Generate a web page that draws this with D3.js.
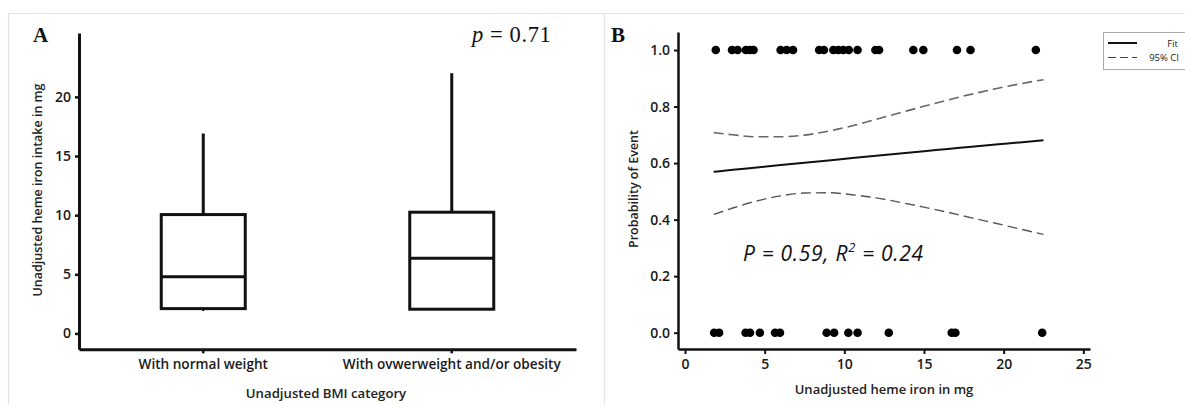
<!DOCTYPE html>
<html>
<head>
<meta charset="utf-8">
<script src="https://cdn.jsdelivr.net/npm/d3@7"></script>
<style>
  body { margin: 0; background: #fff; }
  svg { display: block; font-family: 'Open Sans', sans-serif; }
  .tick text { fill: #1a1a1a; font-weight: 600; }
</style>
</head>
<body>
<div id="chart"></div>
<script>
// panel A: box plot values (mg)
const categories = ['With normal weight', 'With ovwerweight and/or obesity'];
const whiskerLow = [1.9, 2.0];
const q1 = [2.1, 2.05];
const median = [4.8, 6.35];
const q3 = [10.05, 10.25];
const whiskerHigh = [16.9, 22.0];
const ticksA = [0, 5, 10, 15, 20];

// panel B: observed events (heme iron mg) at 1 and at 0
const eventOne = [1.93, 2.95, 3.3, 3.82, 4.07, 4.3, 6.0, 6.38, 6.78, 8.42, 8.72, 9.31, 9.62, 9.94, 10.28, 10.83, 11.95, 12.18, 14.33, 14.96, 17.07, 17.92, 22.02];
const eventZero = [1.83, 2.14, 3.8, 4.08, 4.7, 5.65, 5.96, 8.89, 9.36, 10.25, 10.83, 12.79, 16.74, 16.97, 22.42];

// fitted probability and 95% CI
const fitX = [1.8, 3, 4.5, 6, 7.5, 9, 10.5, 12, 13.5, 15, 16.5, 18, 19.5, 21, 22.5];
const fitP = [0.569, 0.576, 0.584, 0.593, 0.601, 0.609, 0.618, 0.626, 0.634, 0.642, 0.650, 0.658, 0.666, 0.673, 0.681];
const ciHigh = [0.708, 0.700, 0.693, 0.693, 0.699, 0.713, 0.732, 0.755, 0.778, 0.801, 0.823, 0.844, 0.863, 0.880, 0.895];
const ciLow = [0.418, 0.441, 0.466, 0.484, 0.494, 0.495, 0.488, 0.477, 0.461, 0.444, 0.426, 0.406, 0.387, 0.367, 0.348];
const ticksBx = [0, 5, 10, 15, 20, 25];
const ticksBy = [0, 0.2, 0.4, 0.6, 0.8, 1.0];

const W = 1185, H = 404;
const svg = d3.select('#chart').append('svg').attr('width', W).attr('height', H);
svg.append('rect').attr('width', W).attr('height', H).attr('fill', '#fff');

// faint frame around the two panels
svg.append('path')
    .attr('d', `M8.5,${H} V13.5 H${W} M604.5,13.5 V${H}`)
    .attr('fill', 'none').attr('stroke', '#e2e2e2').attr('stroke-width', 1.2);

// ---------- panel A ----------
const xA = d3.scaleBand().domain(categories).range([79, 576]).paddingInner(0.662).paddingOuter(0.331);
const yA = d3.scaleLinear().domain([-1.34, 25.4]).range([349.3, 33]);

const gAy = svg.append('g').attr('transform', 'translate(79,0)')
    .call(d3.axisLeft(yA).tickValues(ticksA).tickSize(4).tickSizeOuter(0).tickPadding(4));
const gAx = svg.append('g').attr('transform', 'translate(0,349.3)')
    .call(d3.axisBottom(xA).tickSize(4).tickSizeOuter(0).tickPadding(6));
[gAy, gAx].forEach(g => {
  g.select('.domain').attr('stroke', '#111').attr('stroke-width', 3);
  g.selectAll('.tick line').attr('stroke', '#111').attr('stroke-width', 2.5);
  g.selectAll('.tick text').attr('font-size', 14).attr('font-family', 'Open Sans');
});
gAx.selectAll('.tick text').attr('font-size', 13.6);

const boxes = svg.append('g').selectAll('g').data(categories).join('g');
boxes.append('line')
    .attr('x1', d => xA(d) + xA.bandwidth() / 2).attr('x2', d => xA(d) + xA.bandwidth() / 2)
    .attr('y1', (d, i) => yA(q3[i])).attr('y2', (d, i) => yA(whiskerHigh[i]))
    .attr('stroke', '#111').attr('stroke-width', 3);
boxes.append('line')
    .attr('x1', d => xA(d) + xA.bandwidth() / 2).attr('x2', d => xA(d) + xA.bandwidth() / 2)
    .attr('y1', (d, i) => yA(q1[i])).attr('y2', (d, i) => yA(whiskerLow[i]))
    .attr('stroke', '#111').attr('stroke-width', 2);
boxes.append('rect')
    .attr('x', d => xA(d)).attr('width', xA.bandwidth())
    .attr('y', (d, i) => yA(q3[i])).attr('height', (d, i) => yA(q1[i]) - yA(q3[i]))
    .attr('fill', '#fff').attr('stroke', '#111').attr('stroke-width', 3);
boxes.append('line')
    .attr('x1', d => xA(d)).attr('x2', d => xA(d) + xA.bandwidth())
    .attr('y1', (d, i) => yA(median[i])).attr('y2', (d, i) => yA(median[i]))
    .attr('stroke', '#111').attr('stroke-width', 3);

svg.append('text').attr('x', 326).attr('y', 398).attr('text-anchor', 'middle')
    .attr('font-size', 13.2).attr('font-weight', 600).attr('fill', '#222').text('Unadjusted BMI category');
svg.append('text').attr('transform', 'translate(38,190) rotate(-90)').attr('dy', '0.35em')
    .attr('text-anchor', 'middle').attr('font-size', 12.5).attr('font-weight', 600).attr('fill', '#222')
    .text('Unadjusted heme iron intake in mg');
svg.append('text').attr('x', 33).attr('y', 42).attr('font-family', 'Liberation Serif')
    .attr('font-weight', 'bold').attr('font-size', 21).attr('fill', '#111').text('A');
const pTxt = svg.append('text').attr('x', 472).attr('y', 42).attr('font-family', 'Liberation Serif')
    .attr('font-size', 22.5).attr('letter-spacing', 0.6).attr('fill', '#111');
pTxt.append('tspan').attr('font-style', 'italic').text('p');
pTxt.append('tspan').text(' = 0.71');

// ---------- panel B ----------
const xB = d3.scaleLinear().domain([-0.44, 25.42]).range([678, 1090]);
const yB = d3.scaleLinear().domain([-0.0577, 1.0637]).range([349, 32]);

const gBy = svg.append('g').attr('transform', 'translate(678,0)')
    .call(d3.axisLeft(yB).tickValues(ticksBy).tickFormat(d3.format('.1f')).tickSize(4).tickSizeOuter(0).tickPadding(4));
const gBx = svg.append('g').attr('transform', 'translate(0,349)')
    .call(d3.axisBottom(xB).tickValues(ticksBx).tickSize(5).tickSizeOuter(0).tickPadding(5));
[gBy, gBx].forEach(g => {
  g.select('.domain').attr('stroke', '#111').attr('stroke-width', 2.5);
  g.selectAll('.tick line').attr('stroke', '#111').attr('stroke-width', 2);
  g.selectAll('.tick text').attr('font-size', 14).attr('font-family', 'Open Sans');
});

const line = (ys) => d3.line().x((d, i) => xB(fitX[i])).y((d, i) => yB(ys[i])).curve(d3.curveMonotoneX)(ys);
svg.append('path').attr('d', line(ciHigh)).attr('fill', 'none')
    .attr('stroke', '#666').attr('stroke-width', 1.6).attr('stroke-dasharray', '10,5');
svg.append('path').attr('d', line(ciLow)).attr('fill', 'none')
    .attr('stroke', '#555').attr('stroke-width', 1.4).attr('stroke-dasharray', '10,5');
svg.append('path').attr('d', line(fitP)).attr('fill', 'none')
    .attr('stroke', '#111').attr('stroke-width', 2);

svg.append('g').selectAll('circle').data(eventOne).join('circle')
    .attr('cx', d => xB(d)).attr('cy', yB(1)).attr('r', 4.3).attr('fill', '#000');
svg.append('g').selectAll('circle').data(eventZero).join('circle')
    .attr('cx', d => xB(d)).attr('cy', yB(0)).attr('r', 4.3).attr('fill', '#000');

const stat = svg.append('text').attr('x', 743).attr('y', 261).attr('font-style', 'italic')
    .attr('font-size', 21).attr('letter-spacing', 0.7).attr('fill', '#111');
stat.append('tspan').text('P = 0.59, R');
stat.append('tspan').attr('dy', -9).attr('font-size', 13).text('2');
stat.append('tspan').attr('dy', 9).text(' = 0.24');

svg.append('text').attr('x', 884).attr('y', 394).attr('text-anchor', 'middle')
    .attr('font-size', 13).attr('font-weight', 600).attr('fill', '#222').text('Unadjusted heme iron in mg');
svg.append('text').attr('transform', 'translate(634,189) rotate(-90)').attr('dy', '0.35em')
    .attr('text-anchor', 'middle').attr('font-size', 12.5).attr('font-weight', 600).attr('fill', '#222')
    .text('Probability of Event');
svg.append('text').attr('x', 611).attr('y', 42).attr('font-family', 'Liberation Serif')
    .attr('font-weight', 'bold').attr('font-size', 21).attr('fill', '#111').text('B');

// legend
const lg = svg.append('g');
lg.append('rect').attr('x', 1103.5).attr('y', 32.5).attr('width', 100).attr('height', 37)
    .attr('fill', '#fff').attr('stroke', '#aaa');
lg.append('line').attr('x1', 1108).attr('x2', 1137).attr('y1', 43).attr('y2', 43)
    .attr('stroke', '#111').attr('stroke-width', 2);
lg.append('line').attr('x1', 1108).attr('x2', 1137).attr('y1', 57.5).attr('y2', 57.5)
    .attr('stroke', '#444').attr('stroke-width', 1.2).attr('stroke-dasharray', '8,4');
lg.append('text').attr('x', 1178).attr('y', 47).attr('text-anchor', 'end')
    .attr('font-size', 9.5).attr('fill', '#222').text('Fit');
lg.append('text').attr('x', 1179).attr('y', 61).attr('text-anchor', 'end')
    .attr('font-size', 9.5).attr('fill', '#222').text('95% CI');
</script>
</body>
</html>
